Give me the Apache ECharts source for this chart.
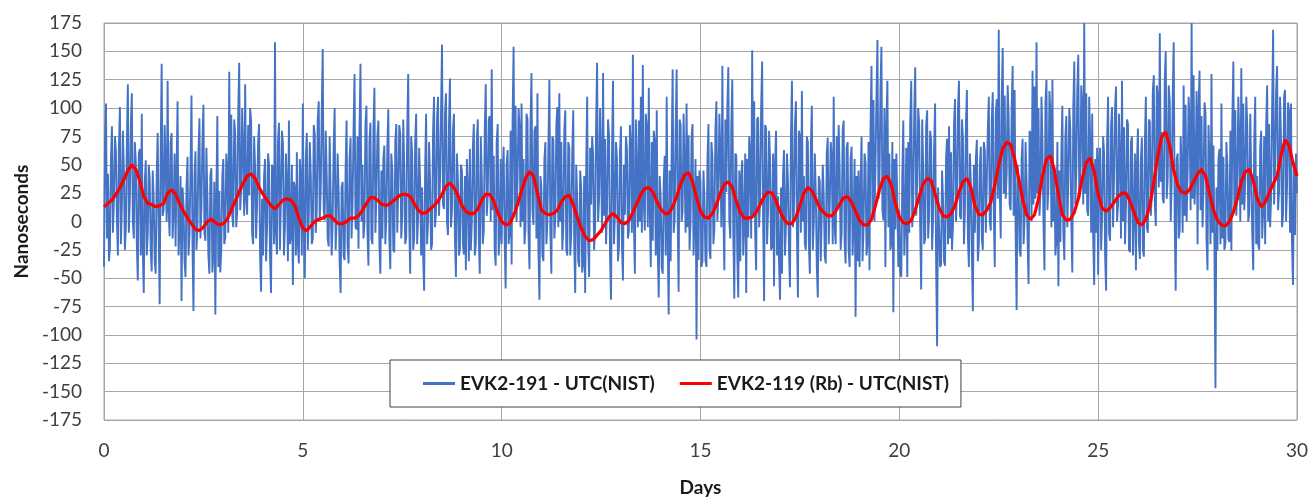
<!DOCTYPE html>
<html lang="en">
<head>
<meta charset="UTF-8">
<title>EVK2 - UTC(NIST)</title>
<script src="https://cdn.jsdelivr.net/npm/echarts@6/dist/echarts.min.js"></script>
<style>
  html, body { margin: 0; padding: 0; background: #fff; }
  #chart { width: 1311px; height: 502px; }
</style>
</head>
<body>
<div id="chart"></div>
<script>
// x ticks (days) and y ticks (ns)
var dayTicks = [0, 5, 10, 15, 20, 25, 30];
var nsTicks = [-175, -150, -125, -100, -75, -50, -25, 0, 25, 50, 75, 100, 125, 150, 175];

// EVK2-191 - UTC(NIST), one value every 0.025 day (one row per day)
var blueStep = 0.025;
var blueNs = [
  -40,70,104,-15,42,-35,-22,55,84,-10,20,75,62,0,-30,65,101,-20,13,80,45,-25,-5,70,121,-10,20,85,113,0,-15,70,53,-20,-52,60,64,-30,95,-25,
  -63,35,54,-30,-12,50,37,-25,-44,45,20,-35,-46,40,78,-10,-73,60,139,5,10,85,51,0,124,10,-13,70,78,-15,9,60,-22,45,106,-30,-6,40,-70,30,
  15,-35,-49,30,57,-30,-12,45,111,-20,-79,40,62,-25,-6,60,91,-15,13,70,103,-10,-17,65,21,-30,-46,40,47,-45,-30,35,-82,20,93,-40,27,-45,-24,40,
  55,-20,-14,60,42,-10,132,10,94,5,-5,90,77,-5,9,95,140,10,28,100,60,5,121,20,6,85,23,100,89,-10,-20,75,48,-15,16,70,86,-30,-62,20,
  -30,40,55,-35,-5,60,50,-30,-63,50,45,-20,158,-10,-29,70,87,-25,23,80,69,-30,-5,60,34,-35,89,-20,-14,50,-56,35,30,-30,61,-20,-37,55,37,-30,
  104,-10,-50,55,78,-25,7,70,41,-20,-15,85,77,-10,9,90,106,0,28,95,152,10,1,80,42,-15,-22,75,74,-30,0,65,100,-25,3,60,27,-35,-63,30,
  35,-30,-34,45,89,-20,-37,55,74,-15,15,80,130,-5,-7,75,-24,80,139,0,50,-15,-2,85,102,-10,-39,70,87,-15,-20,80,118,-10,22,75,89,-20,-46,45,
  -15,55,67,-20,4,65,99,-15,-42,60,45,-25,-27,70,86,-10,29,85,77,-15,5,90,48,-20,-14,80,130,0,-46,75,60,-25,-15,70,95,-20,5,65,35,-30,
  30,-30,-61,45,95,-20,0,70,35,-25,-20,80,110,-5,10,90,110,5,35,95,156,15,11,95,113,0,-12,85,126,-5,10,80,95,-15,-49,60,37,-30,-24,50,
  45,-20,-29,40,-43,55,30,-35,64,-25,0,65,86,-30,-20,70,90,-15,-46,75,40,-20,-8,80,121,5,21,90,93,0,134,10,58,-25,-39,70,86,-30,-13,55,
  -20,45,66,-15,-59,50,63,-20,-11,80,-38,90,154,10,102,0,38,100,84,-5,104,0,55,-20,-5,95,90,-10,-42,85,131,10,-3,80,84,-15,113,-25,-69,40,
  30,-30,-35,55,70,-20,0,65,125,-10,-46,75,72,-15,4,85,101,-5,113,0,70,-25,-5,80,98,-25,-30,70,65,-30,-10,60,98,-20,-63,50,20,-35,-40,45,
  30,-45,-38,40,-63,45,110,-20,-49,65,15,75,60,-25,-5,85,140,0,20,100,55,-10,131,5,73,-20,12,90,76,-30,-69,60,124,-20,9,70,56,-35,-22,60,
  84,-20,-52,50,6,75,64,-15,-8,85,65,-10,147,0,-46,90,43,-5,89,0,110,-10,138,15,-8,95,83,-5,118,10,-40,70,-17,80,71,-30,98,-25,-67,40,
  20,-40,-46,35,58,-30,110,-15,-82,45,-35,60,134,-10,1,80,134,10,-62,90,85,0,9,95,48,-10,104,-5,76,-25,0,75,86,-30,3,55,-104,40,-34,45,
  35,-40,-35,45,20,-35,-40,55,86,-25,-33,70,57,-20,-6,80,106,0,23,95,60,-5,137,10,-43,90,26,100,136,0,-15,85,125,-10,-68,60,58,-30,-67,45,
  -35,40,54,-30,-2,60,-63,55,-14,75,60,-15,151,5,106,-10,-43,90,92,-5,20,100,141,0,-70,85,82,-20,11,80,55,-25,-22,60,-57,50,80,-30,22,-35,
  -69,30,-46,40,63,-30,-3,60,36,-25,-58,75,124,-5,9,85,106,-10,-67,80,75,-10,115,0,40,-20,-25,75,70,-20,-46,65,102,-25,0,60,25,-40,-67,40,
  35,-35,-34,50,22,-30,-37,60,74,-20,15,70,58,-20,110,-5,-20,75,12,85,45,-25,-10,80,89,-20,-37,65,70,-25,-40,55,66,-30,0,55,-84,40,-35,45,
  -40,30,75,-35,-7,60,52,-30,-19,70,-43,80,137,5,107,0,48,110,160,20,30,115,154,10,1,100,-40,85,124,-5,60,-25,-19,70,-80,55,-7,60,19,-40,
  10,-45,-49,40,89,-30,-2,65,-49,70,-10,90,124,-5,16,95,136,5,37,100,85,-5,-60,90,50,-20,-15,85,98,-15,5,80,72,-25,4,65,104,-35,-110,30,
  30,-40,-38,45,19,-35,-39,55,73,-20,84,-15,61,-25,-3,85,108,0,24,100,124,5,2,90,74,-20,11,85,116,-15,-40,60,34,-30,-79,50,-10,55,72,-35,
  -20,50,66,-15,-25,70,63,-10,-11,80,110,0,-8,90,114,10,-40,95,108,20,169,30,-15,110,153,25,111,20,43,120,90,15,10,100,137,5,116,-10,-78,50,
  35,-25,-31,55,73,-20,2,70,36,-15,-55,80,78,0,133,15,119,20,158,25,100,5,27,110,69,0,-43,105,125,10,30,115,96,-5,125,0,48,-30,-16,70,
  -57,45,-18,60,102,-10,-34,75,93,-5,35,100,81,0,-45,100,141,15,44,115,147,20,27,120,104,15,175,25,113,10,5,110,70,-10,95,-15,-56,55,-10,65,
  -47,55,65,-25,5,75,60,-30,-61,70,110,-10,-17,85,101,-5,39,100,119,0,15,95,56,-15,124,0,83,-20,14,90,86,-25,-27,70,75,-30,5,60,-43,50,
  82,-20,-33,55,74,-25,-31,70,110,-5,-10,90,88,5,26,115,129,15,-4,120,110,30,166,35,79,20,16,125,150,20,40,120,106,0,37,110,158,0,-61,55,
  60,-15,-8,75,49,-10,120,5,103,0,45,110,88,10,175,20,129,15,42,115,-20,100,133,10,93,-5,32,105,96,-15,-43,85,54,-20,130,-10,67,-25,-147,30,
  -26,55,64,-20,104,-15,57,-25,-19,70,50,-15,-18,80,-26,90,141,10,98,5,30,110,73,0,135,15,104,10,37,110,85,0,7,95,94,-10,-43,70,110,-20,
  40,-20,-25,65,80,-15,10,75,-20,85,120,0,86,-5,22,100,169,15,49,115,137,10,27,110,69,-5,6,110,116,0,30,105,97,-10,104,-20,-56,50,-12,60,
  25
];

// EVK2-119 (Rb) - UTC(NIST), one value every 0.1 day
var redStep = 0.1;
var redNs = [
  13,16,19,24,30,37,45,50,46,36, 22,16,15,13,14,16,25,28,24,16,
  9,3,-2,-7,-8,-5,0,2,-1,-3, -2,2,10,18,26,34,40,42,38,30,
  24,19,14,11,15,19,20,19,14,3, -6,-8,-4,0,2,3,5,5,1,-2,
  -2,0,3,3,5,10,16,21,21,18, 15,14,16,19,22,24,24,22,16,10,
  7,8,11,14,18,24,31,34,30,23, 14,9,7,7,11,19,24,24,18,8,
  0,-3,-2,5,15,27,38,44,40,25, 10,7,6,7,10,17,22,23,15,4,
  -6,-13,-17,-16,-12,-8,-2,4,7,4, -1,-2,1,8,16,24,29,30,26,18,
  11,7,7,13,22,33,41,43,35,21, 9,4,3,7,15,25,33,35,30,18,
  8,3,3,4,8,15,22,26,25,18, 9,2,-2,-2,4,14,25,30,27,20,
  12,8,5,5,9,15,21,22,17,9, 1,-3,-3,2,14,28,38,40,32,16,
  4,-1,-2,1,10,22,33,38,36,24, 12,5,4,7,14,26,35,38,30,14,
  6,6,10,17,32,50,64,70,68,55, 38,20,6,2,6,20,40,55,58,45,
  24,6,1,2,8,20,38,52,56,44, 24,12,9,12,17,22,25,25,18,8,
  -1,-3,2,14,35,58,75,79,66,45, 32,26,25,28,35,42,46,40,25,10,
  1,-3,-4,0,8,20,35,44,46,36, 20,13,17,25,33,40,58,72,67,52,
  40
];

var blueName = 'EVK2-191 - UTC(NIST)';
var redName = 'EVK2-119 (Rb) - UTC(NIST)';

function toPairs(values, step) {
  return values.map(function (v, i) { return [+(i * step).toFixed(3), v]; });
}

var font = 'Lato, "Open Sans", sans-serif';
var gridColor = '#a6a6a6';

var chart = echarts.init(document.getElementById('chart'));
chart.setOption({
  animation: false,
  textStyle: { fontFamily: font },
  grid: { left: 104, right: 13, top: 23, bottom: 75, show: true, borderColor: gridColor, borderWidth: 1 },
  xAxis: {
    type: 'value',
    min: dayTicks[0],
    max: dayTicks[dayTicks.length - 1],
    interval: 5,
    name: 'Days',
    nameLocation: 'middle',
    nameGap: 58,
    nameTextStyle: { fontFamily: font, fontSize: 19, fontWeight: 'bold', color: '#1a1a1a' },
    axisLine: { show: false },
    axisTick: { show: false },
    axisLabel: { fontFamily: font, fontSize: 19, color: '#404040', margin: 21 },
    splitLine: { show: true, lineStyle: { color: gridColor, width: 1 } }
  },
  yAxis: {
    type: 'value',
    min: nsTicks[0],
    max: nsTicks[nsTicks.length - 1],
    interval: 25,
    name: 'Nanoseconds',
    nameLocation: 'middle',
    nameGap: 72,
    nameTextStyle: { fontFamily: font, fontSize: 19, fontWeight: 'bold', color: '#1a1a1a' },
    axisLine: { show: false },
    axisTick: { show: false },
    axisLabel: { fontFamily: font, fontSize: 19, color: '#404040', margin: 22 },
    splitLine: { show: true, lineStyle: { color: gridColor, width: 1 } }
  },
  legend: {
    left: 390,
    top: 360,
    orient: 'horizontal',
    padding: [14, 12, 14, 33],
    itemGap: 25,
    itemWidth: 32,
    itemHeight: 3,
    icon: 'rect',
    backgroundColor: '#fff',
    borderColor: '#404040',
    borderWidth: 1,
    textStyle: { fontFamily: font, fontSize: 19, fontWeight: 'bold', color: '#1a1a1a' },
    data: [blueName, redName]
  },
  series: [
    {
      name: blueName,
      type: 'line',
      data: toPairs(blueNs, blueStep),
      showSymbol: false,
      symbol: 'none',
      lineStyle: { color: '#4472c4', width: 1.9 },
      itemStyle: { color: '#4472c4' },
      z: 2
    },
    {
      name: redName,
      type: 'line',
      data: toPairs(redNs, redStep),
      showSymbol: false,
      symbol: 'none',
      lineStyle: { color: '#ff0000', width: 3.2 },
      itemStyle: { color: '#ff0000' },
      z: 3
    }
  ]
});
</script>
</body>
</html>
